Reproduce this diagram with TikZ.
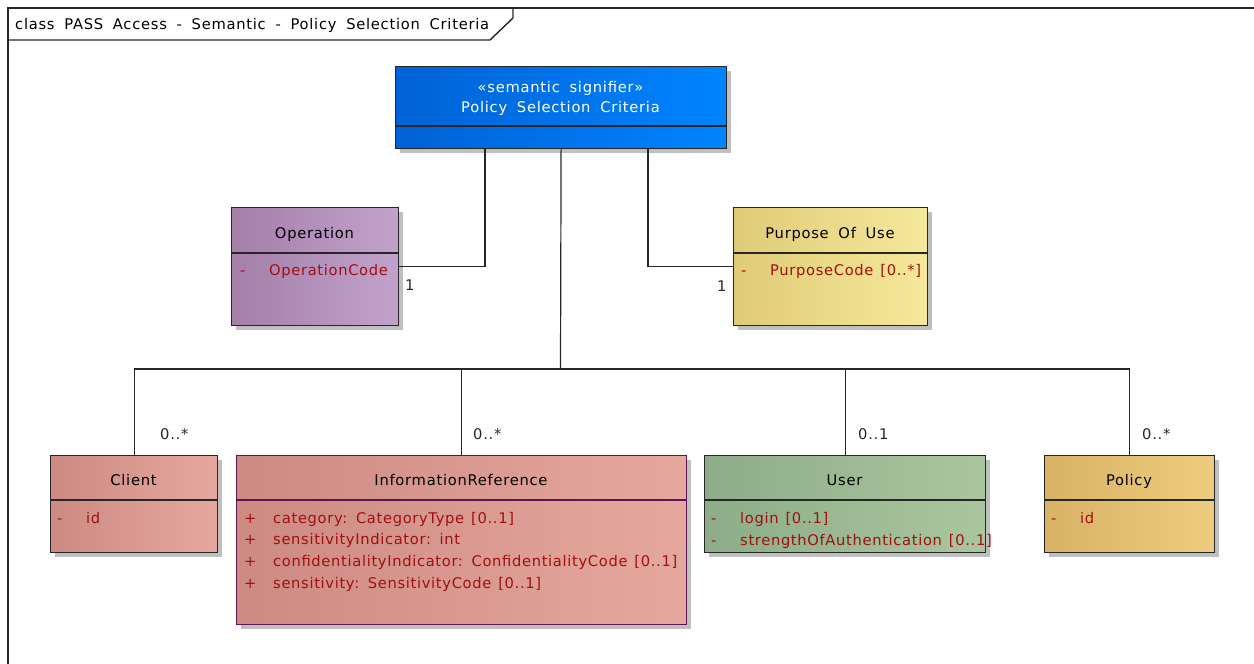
\documentclass[tikz,border=0pt]{standalone}
\usepackage{fontspec}
\setmainfont{DejaVu Sans}[LetterSpace=5, WordSpace=1.8]
\newfontfamily\attrfont{DejaVu Sans}[LetterSpace=4.5, WordSpace=1.3]
\usetikzlibrary{calc,shadows}

% class fills (left -> right gradient)
\definecolor{sigL}{HTML}{0062D6}
\definecolor{sigR}{HTML}{0084FF}
\definecolor{opL}{HTML}{A47FA8}
\definecolor{opR}{HTML}{C2A2CC}
\definecolor{pouL}{HTML}{DFCB77}
\definecolor{pouR}{HTML}{F6E89A}
\definecolor{roseL}{HTML}{CC8A82}
\definecolor{roseR}{HTML}{E6A89E}
\definecolor{usrL}{HTML}{8CAD88}
\definecolor{usrR}{HTML}{AAC69E}
\definecolor{polL}{HTML}{D8B266}
\definecolor{polR}{HTML}{EECC7E}
\definecolor{attrred}{HTML}{A01010}
\definecolor{irfborder}{HTML}{5C1458}

\newcommand{\attr}[2]{\makebox[29pt][l]{#1}#2}

\begin{document}
\begin{tikzpicture}[x=1pt,y=-1pt,
  font=\fontsize{14.7}{18}\selectfont,
  classbox/.style={draw=black!85, line width=1.2pt, inner sep=0pt, anchor=north west,
    drop shadow={shadow xshift=4pt, shadow yshift=-4pt, fill=black!25, opacity=1}},
  divider/.style={draw=black!85, line width=1.2pt},
  ctitle/.style={anchor=mid, inner sep=0pt, yshift=-3pt, text=black},
  cattr/.style={anchor=mid west, inner sep=0pt, yshift=-3pt, text=attrred,
    font={\attrfont\fontsize{14.7}{18}\selectfont}},
  mult/.style={anchor=mid west, inner sep=0pt, yshift=-3pt, text=black!85},
  link/.style={draw=black!85, line width=1.2pt},
  framestyle/.style={draw=black!85, line width=1.4pt}]

\useasboundingbox (0,0) rectangle (1254,664);

% diagram frame with its name tab
\draw[framestyle] (8,680) -- (8,8) -- (1270,8);
\draw[framestyle] (8,40) -- (490,40) -- (513,18) -- (513,8);
\node[anchor=mid west, inner sep=0pt, yshift=-3pt] (frametitle) at (15,24)
  {class PASS Access - Semantic - Policy Selection Criteria};

% semantic signifier
\node[classbox, left color=sigL, right color=sigR, minimum width=331pt, minimum height=82pt]
  (psc) at (395,66) {};
\draw[divider] ($(psc.north west)+(0,60)$) -- ($(psc.north east)+(0,60)$);
\node[ctitle, text=white] (pscst) at (560.5,87) {«semantic signifier»};
\node[ctitle, text=white] (pscname) at (560.5,107) {Policy Selection Criteria};

% Operation
\node[classbox, left color=opL, right color=opR, minimum width=167pt, minimum height=118pt]
  (op) at (231,207) {};
\draw[divider] ($(op.north west)+(0,46)$) -- ($(op.north east)+(0,46)$);
\node[ctitle] (opname) at (314.5,233) {Operation};
\node[cattr] (opa) at (240,270) {\attr{-}{OperationCode}};

% Purpose Of Use
\node[classbox, left color=pouL, right color=pouR, minimum width=194pt, minimum height=118pt]
  (pou) at (733,207) {};
\draw[divider] ($(pou.north west)+(0,46)$) -- ($(pou.north east)+(0,46)$);
\node[ctitle] (pouname) at (830,233) {Purpose Of Use};
\node[cattr] (poua) at (741,270) {\attr{-}{PurposeCode [0..*]}};

% Client
\node[classbox, left color=roseL, right color=roseR, minimum width=167pt, minimum height=97pt]
  (cl) at (50,455) {};
\draw[divider] ($(cl.north west)+(0,45)$) -- ($(cl.north east)+(0,45)$);
\node[ctitle] (clname) at (133.5,480) {Client};
\node[cattr] (cla) at (57,518) {\attr{-}{id}};

% InformationReference
\node[classbox, draw=irfborder, left color=roseL, right color=roseR, minimum width=450pt, minimum height=169pt]
  (irf) at (236,455) {};
\draw[divider, draw=irfborder] ($(irf.north west)+(0,45)$) -- ($(irf.north east)+(0,45)$);
\node[ctitle] (irfname) at (461,480) {InformationReference};
\node[cattr] (irfa) at (244,518) {\attr{+}{category: CategoryType [0..1]}};
\node[cattr] (irfb) at (244,539) {\attr{+}{sensitivityIndicator: int}};
\node[cattr] (irfc) at (244,561) {\attr{+}{confidentialityIndicator: ConfidentialityCode [0..1]}};
\node[cattr] (irfd) at (244,583) {\attr{+}{sensitivity: SensitivityCode [0..1]}};

% User
\node[classbox, left color=usrL, right color=usrR, minimum width=281pt, minimum height=97pt]
  (usr) at (704,455) {};
\draw[divider] ($(usr.north west)+(0,45)$) -- ($(usr.north east)+(0,45)$);
\node[ctitle] (usrname) at (844.5,480) {User};
\node[cattr] (usra) at (711,518) {\attr{-}{login [0..1]}};
\node[cattr] (usrb) at (711,540) {\attr{-}{strengthOfAuthentication [0..1]}};

% Policy
\node[classbox, left color=polL, right color=polR, minimum width=170pt, minimum height=97pt]
  (pol) at (1044,455) {};
\draw[divider] ($(pol.north west)+(0,45)$) -- ($(pol.north east)+(0,45)$);
\node[ctitle] (polname) at (1129,480) {Policy};
\node[cattr] (pola) at (1051,518) {\attr{-}{id}};

% associations
\coordinate (bus) at (560.5,369);
\draw[link] ($(psc.south west)+(90,0)$) |- (op.east);
\draw[link] ($(psc.south west)+(253,0)$) |- (pou.west);
\draw[link] (psc.south) -- (bus);
\draw[link] (cl.north) |- (bus);
\draw[link] (irf.north) |- (bus);
\draw[link] (usr.north) |- (bus);
\draw[link] (pol.north) |- (bus);

% multiplicities
\node[mult] (m1) at (405,285) {1};
\node[mult] (m2) at (717,286) {1};
\node[mult] (m3) at (160,434) {0..*};
\node[mult] (m4) at (473,434) {0..*};
\node[mult] (m5) at (858,434) {0..1};
\node[mult] (m6) at (1142,434) {0..*};

\end{tikzpicture}
\end{document}
